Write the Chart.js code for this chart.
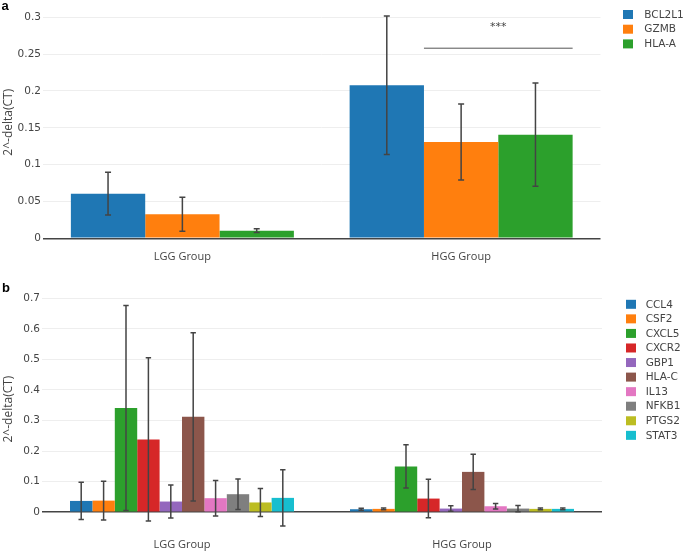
<!DOCTYPE html>
<html><head><meta charset="utf-8">
<script src="https://cdn.jsdelivr.net/npm/chart.js@4"></script>
<style>
html,body{margin:0;padding:0;background:#fff;}
#wrap{position:relative;width:685px;height:551px;overflow:hidden;background:#fff;}
canvas{position:absolute;left:0;}
#cA{top:0}
#cB{top:270px}
.lbl{position:absolute;font:bold 13px "Liberation Sans",Arial,sans-serif;line-height:13px;color:#000;}
</style></head><body>
<div id="wrap">
<canvas id="cA" width="685" height="270"></canvas>
<canvas id="cB" width="685" height="281"></canvas>
<div class="lbl" style="left:1.5px;top:-1.5px">a</div>
<div class="lbl" style="left:2px;top:280.5px">b</div>
</div>
<script>
// ---------- data ----------
const categories = ['LGG Group', 'HGG Group'];

// panel a
const genesA = ['BCL2L1', 'GZMB', 'HLA-A'];
const meanBCL2L1 = [0.0605, 0.2077];
const errBCL2L1  = [0.029, 0.094];
const meanGZMB   = [0.0326, 0.1307];
const errGZMB    = [0.023, 0.0516];
const meanHLAA   = [0.0103, 0.1406];
const errHLAA    = [0.0025, 0.070];
const yTicksA    = [0, 0.05, 0.1, 0.15, 0.2, 0.25, 0.3];
const sigLabelA  = '***';
const sigLineValueA = 0.258;
const sigTextValueA = 0.286;

// panel b
const genesB   = ['CCL4', 'CSF2', 'CXCL5', 'CXCR2', 'GBP1', 'HLA-C', 'IL13', 'NFKB1', 'PTGS2', 'STAT3'];
const lggMeanB = [0.037, 0.038, 0.341, 0.238, 0.035, 0.312, 0.046, 0.059, 0.032, 0.047];
const lggErrB  = [0.061, 0.063, 0.335, 0.267, 0.054, 0.275, 0.058, 0.050, 0.046, 0.092];
const hggMeanB = [0.0098, 0.011, 0.150, 0.0447, 0.012, 0.132, 0.0196, 0.012, 0.011, 0.011];
const hggErrB  = [0.003, 0.003, 0.071, 0.063, 0.009, 0.058, 0.009, 0.010, 0.003, 0.003];
const yTicksB  = [0, 0.1, 0.2, 0.3, 0.4, 0.5, 0.6, 0.7];

const yTitle = '2^-delta(CT)';
const palette = ['#1f77b4', '#ff7f0e', '#2ca02c', '#d62728', '#9467bd', '#8c564b', '#e377c2', '#7f7f7f', '#bcbd22', '#17becf'];

// ---------- plugins ----------
const errorBars = {
  id: 'errorBars',
  afterDatasetsDraw(chart, args, opts) {
    const ctx = chart.ctx, ys = chart.scales.y;
    ctx.save();
    ctx.strokeStyle = opts.color; ctx.lineWidth = opts.width;
    chart.data.datasets.forEach((ds, i) => {
      const meta = chart.getDatasetMeta(i);
      meta.data.forEach((bar, j) => {
        const v = ds.data[j], e = ds.errors[j];
        const x = bar.x, y1 = ys.getPixelForValue(v + e), y2 = ys.getPixelForValue(v - e);
        ctx.beginPath();
        ctx.moveTo(x, y1); ctx.lineTo(x, y2);
        ctx.moveTo(x - opts.cap, y1); ctx.lineTo(x + opts.cap, y1);
        ctx.moveTo(x - opts.cap, y2); ctx.lineTo(x + opts.cap, y2);
        ctx.stroke();
      });
    });
    ctx.restore();
  }
};

const sideLegend = {
  id: 'sideLegend',
  afterDraw(chart, args, opts) {
    const ctx = chart.ctx;
    ctx.save();
    ctx.font = opts.font;
    ctx.textBaseline = 'middle';
    ctx.textAlign = 'left';
    chart.data.datasets.forEach((ds, i) => {
      const cy = opts.y0 + i * opts.dy;
      ctx.fillStyle = ds.backgroundColor;
      ctx.fillRect(opts.boxX, cy - opts.boxH / 2, opts.boxW, opts.boxH);
      ctx.fillStyle = opts.color;
      ctx.fillText(ds.label, opts.textX, cy + 0.5);
    });
    ctx.restore();
  }
};

const sigMark = {
  id: 'sigMark',
  afterDatasetsDraw(chart, args, opts) {
    if (!opts || !opts.text) return;
    const ctx = chart.ctx, ys = chart.scales.y;
    const gi = chart.data.labels.indexOf(opts.group);
    const b1 = chart.getDatasetMeta(opts.from).data[gi];
    const b2 = chart.getDatasetMeta(opts.to).data[gi];
    const x1 = b1.x - b1.width / 2, x2 = b2.x + b2.width / 2;
    const yl = ys.getPixelForValue(opts.lineValue), yt = ys.getPixelForValue(opts.textValue);
    ctx.save();
    ctx.strokeStyle = '#555'; ctx.lineWidth = 1;
    ctx.beginPath(); ctx.moveTo(x1, yl); ctx.lineTo(x2, yl); ctx.stroke();
    ctx.fillStyle = '#444'; ctx.font = '11px "DejaVu Sans"';
    ctx.textAlign = 'center'; ctx.textBaseline = 'middle';
    ctx.fillText(opts.text, (x1 + x2) / 2, yt);
    ctx.restore();
  }
};

function fmt(v) { return String(Math.round(v * 1000) / 1000); }

function makeOptions(cfg) {
  return {
    responsive: false,
    animation: false,
    events: [],
    layout: { padding: cfg.padding },
    plugins: {
      legend: { display: false },
      tooltip: { enabled: false },
      errorBars: { color: '#444', width: 1.5, cap: cfg.cap },
      sideLegend: cfg.legend,
      sigMark: cfg.sig || {}
    },
    scales: {
      x: {
        grid: { display: false, drawTicks: false },
        border: { display: false },
        ticks: { color: '#444', font: { family: 'Open Sans', size: 11 }, padding: cfg.xPad },
        afterFit(s) { s.height = cfg.xH; s.paddingLeft = 0; s.paddingRight = 0; }
      },
      y: {
        min: cfg.min, max: cfg.max,
        afterBuildTicks(s) { s.ticks = cfg.ticks.map(v => ({ value: v })); },
        grid: {
          drawTicks: false,
          color: c => (c.tick && Math.abs(c.tick.value) < 1e-9) ? '#444' : '#eeeeee',
          lineWidth: c => (c.tick && Math.abs(c.tick.value) < 1e-9) ? 1.5 : 1
        },
        border: { display: false },
        ticks: { color: '#444', font: { family: 'DejaVu Sans', size: 10.5 }, padding: 2, callback: v => fmt(v) },
        title: { display: true, text: yTitle, color: '#444', font: { family: 'Open Sans', size: 12 }, padding: { top: 1, bottom: 0 } },
        afterFit(s) { s.width = cfg.yW; s.paddingTop = 0; s.paddingBottom = 0; }
      }
    }
  };
}

// ---------- chart a ----------
const seriesA = [
  [meanBCL2L1, errBCL2L1],
  [meanGZMB, errGZMB],
  [meanHLAA, errHLAA]
];
new Chart(document.getElementById('cA'), {
  type: 'bar',
  data: {
    labels: categories,
    datasets: genesA.map((g, i) => ({
      label: g, data: seriesA[i][0], errors: seriesA[i][1],
      backgroundColor: palette[i], borderWidth: 0,
      barPercentage: 1, categoryPercentage: 0.8
    }))
  },
  options: makeOptions({
    padding: { left: 0, right: 84.5, top: 6.2, bottom: 1.7 },
    xH: 30, xPad: 12, yW: 43, min: 0, max: 0.315, ticks: yTicksA, cap: 3,
    legend: { font: '10.5px "DejaVu Sans"', color: '#444', boxX: 623, boxW: 10, boxH: 9, textX: 644.3, y0: 14.5, dy: 14.7 },
    sig: { text: sigLabelA, group: 'HGG Group', from: 1, to: 2, lineValue: sigLineValueA, textValue: sigTextValueA }
  }),
  plugins: [errorBars, sideLegend, sigMark]
});

// ---------- chart b ----------
new Chart(document.getElementById('cB'), {
  type: 'bar',
  data: {
    labels: categories,
    datasets: genesB.map((g, i) => ({
      label: g, data: [lggMeanB[i], hggMeanB[i]], errors: [lggErrB[i], hggErrB[i]],
      backgroundColor: palette[i], borderWidth: 0,
      barPercentage: 1, categoryPercentage: 0.8
    }))
  },
  options: makeOptions({
    padding: { left: 0, right: 83, top: 22.1, bottom: 0 },
    xH: 25, xPad: 12, yW: 42, min: -0.045, max: 0.72, ticks: yTicksB, cap: 2.7,
    legend: { font: '10.5px "DejaVu Sans"', color: '#444', boxX: 626, boxW: 10, boxH: 9, textX: 645.7, y0: 34.3, dy: 14.56 }
  }),
  plugins: [errorBars, sideLegend]
});
</script>
</body></html>
